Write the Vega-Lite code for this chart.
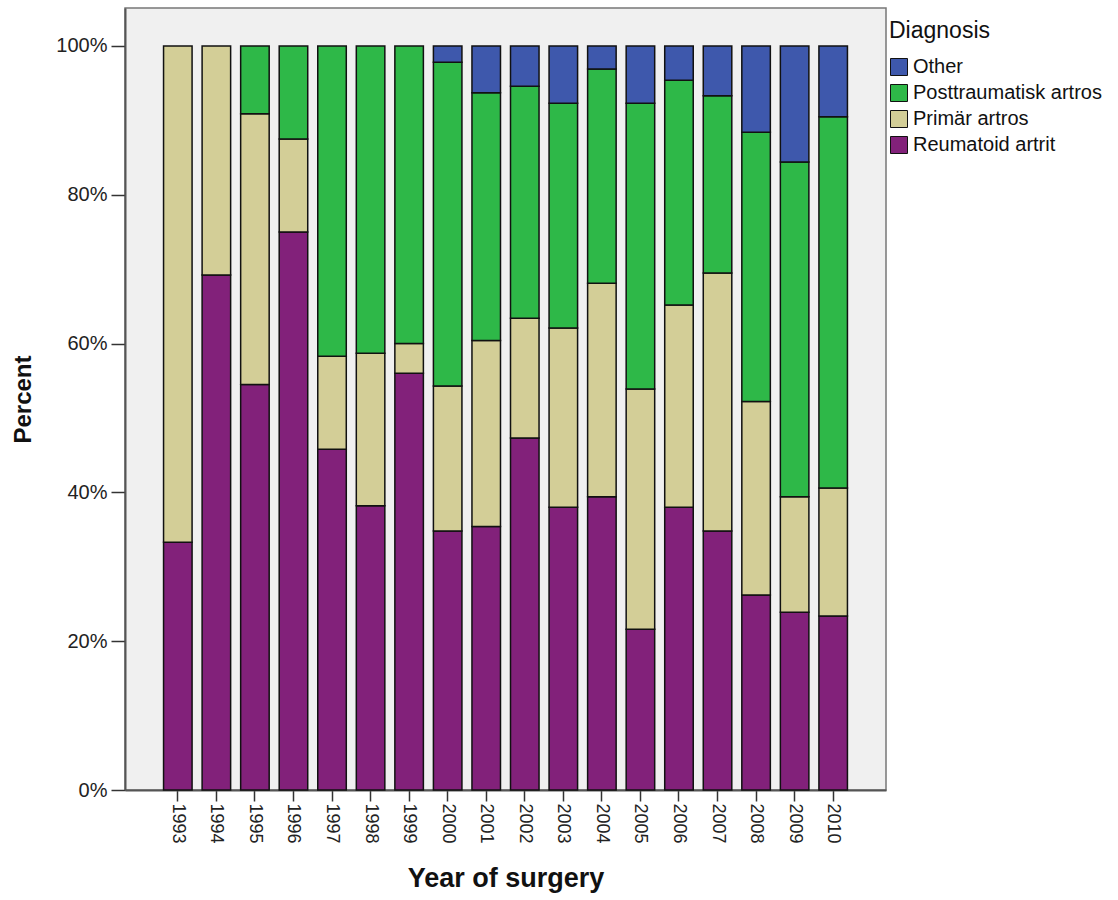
{
  "$schema": "https://vega.github.io/schema/vega-lite/v6.json",
  "autosize": "none",
  "width": 761,
  "height": 782,
  "padding": {"left": 125, "top": 8, "right": 232, "bottom": 110},
  "background": "white",
  "config": {
    "view": {"fill": "#f0f0f0", "stroke": "#777777", "strokeWidth": 1.5},
    "font": "Liberation Sans"
  },
  "data": {
    "values": [
      {"year": "1993", "diagnosis": "Reumatoid artrit", "percent": 33.3},
      {"year": "1993", "diagnosis": "Primär artros", "percent": 66.7},
      {"year": "1994", "diagnosis": "Reumatoid artrit", "percent": 69.2},
      {"year": "1994", "diagnosis": "Primär artros", "percent": 30.8},
      {"year": "1995", "diagnosis": "Reumatoid artrit", "percent": 54.5},
      {"year": "1995", "diagnosis": "Primär artros", "percent": 36.4},
      {"year": "1995", "diagnosis": "Posttraumatisk artros", "percent": 9.1},
      {"year": "1996", "diagnosis": "Reumatoid artrit", "percent": 75.0},
      {"year": "1996", "diagnosis": "Primär artros", "percent": 12.5},
      {"year": "1996", "diagnosis": "Posttraumatisk artros", "percent": 12.5},
      {"year": "1997", "diagnosis": "Reumatoid artrit", "percent": 45.8},
      {"year": "1997", "diagnosis": "Primär artros", "percent": 12.5},
      {"year": "1997", "diagnosis": "Posttraumatisk artros", "percent": 41.7},
      {"year": "1998", "diagnosis": "Reumatoid artrit", "percent": 38.2},
      {"year": "1998", "diagnosis": "Primär artros", "percent": 20.5},
      {"year": "1998", "diagnosis": "Posttraumatisk artros", "percent": 41.3},
      {"year": "1999", "diagnosis": "Reumatoid artrit", "percent": 56.0},
      {"year": "1999", "diagnosis": "Primär artros", "percent": 4.0},
      {"year": "1999", "diagnosis": "Posttraumatisk artros", "percent": 40.0},
      {"year": "2000", "diagnosis": "Reumatoid artrit", "percent": 34.8},
      {"year": "2000", "diagnosis": "Primär artros", "percent": 19.5},
      {"year": "2000", "diagnosis": "Posttraumatisk artros", "percent": 43.5},
      {"year": "2000", "diagnosis": "Other", "percent": 2.2},
      {"year": "2001", "diagnosis": "Reumatoid artrit", "percent": 35.4},
      {"year": "2001", "diagnosis": "Primär artros", "percent": 25.0},
      {"year": "2001", "diagnosis": "Posttraumatisk artros", "percent": 33.3},
      {"year": "2001", "diagnosis": "Other", "percent": 6.3},
      {"year": "2002", "diagnosis": "Reumatoid artrit", "percent": 47.3},
      {"year": "2002", "diagnosis": "Primär artros", "percent": 16.1},
      {"year": "2002", "diagnosis": "Posttraumatisk artros", "percent": 31.2},
      {"year": "2002", "diagnosis": "Other", "percent": 5.4},
      {"year": "2003", "diagnosis": "Reumatoid artrit", "percent": 38.0},
      {"year": "2003", "diagnosis": "Primär artros", "percent": 24.1},
      {"year": "2003", "diagnosis": "Posttraumatisk artros", "percent": 30.2},
      {"year": "2003", "diagnosis": "Other", "percent": 7.7},
      {"year": "2004", "diagnosis": "Reumatoid artrit", "percent": 39.4},
      {"year": "2004", "diagnosis": "Primär artros", "percent": 28.7},
      {"year": "2004", "diagnosis": "Posttraumatisk artros", "percent": 28.8},
      {"year": "2004", "diagnosis": "Other", "percent": 3.1},
      {"year": "2005", "diagnosis": "Reumatoid artrit", "percent": 21.6},
      {"year": "2005", "diagnosis": "Primär artros", "percent": 32.3},
      {"year": "2005", "diagnosis": "Posttraumatisk artros", "percent": 38.4},
      {"year": "2005", "diagnosis": "Other", "percent": 7.7},
      {"year": "2006", "diagnosis": "Reumatoid artrit", "percent": 38.0},
      {"year": "2006", "diagnosis": "Primär artros", "percent": 27.2},
      {"year": "2006", "diagnosis": "Posttraumatisk artros", "percent": 30.2},
      {"year": "2006", "diagnosis": "Other", "percent": 4.6},
      {"year": "2007", "diagnosis": "Reumatoid artrit", "percent": 34.8},
      {"year": "2007", "diagnosis": "Primär artros", "percent": 34.7},
      {"year": "2007", "diagnosis": "Posttraumatisk artros", "percent": 23.8},
      {"year": "2007", "diagnosis": "Other", "percent": 6.7},
      {"year": "2008", "diagnosis": "Reumatoid artrit", "percent": 26.2},
      {"year": "2008", "diagnosis": "Primär artros", "percent": 26.0},
      {"year": "2008", "diagnosis": "Posttraumatisk artros", "percent": 36.2},
      {"year": "2008", "diagnosis": "Other", "percent": 11.6},
      {"year": "2009", "diagnosis": "Reumatoid artrit", "percent": 23.9},
      {"year": "2009", "diagnosis": "Primär artros", "percent": 15.5},
      {"year": "2009", "diagnosis": "Posttraumatisk artros", "percent": 45.0},
      {"year": "2009", "diagnosis": "Other", "percent": 15.6},
      {"year": "2010", "diagnosis": "Reumatoid artrit", "percent": 23.4},
      {"year": "2010", "diagnosis": "Primär artros", "percent": 17.2},
      {"year": "2010", "diagnosis": "Posttraumatisk artros", "percent": 49.9},
      {"year": "2010", "diagnosis": "Other", "percent": 9.5}
    ]
  },
  "mark": {"type": "bar", "stroke": "#111111", "strokeWidth": 1.5},
  "encoding": {
    "x": {
      "field": "year",
      "type": "ordinal",
      "scale": {"paddingInner": 0.26, "paddingOuter": 1.1},
      "axis": {
        "title": "Year of surgery",
        "titleFontSize": 27,
        "titleFontWeight": "bold",
        "titleColor": "#111111",
        "titlePadding": 22,
        "labelAngle": 90,
        "labelAlign": "left",
        "labelBaseline": "middle",
        "labelFontSize": 18,
        "labelColor": "#222222",
        "labelPadding": 2,
        "tickSize": 11,
        "tickColor": "#333333",
        "tickWidth": 1.5,
        "domainColor": "#555555",
        "domainWidth": 2
      }
    },
    "y": {
      "field": "percent",
      "type": "quantitative",
      "stack": "zero",
      "scale": {"domain": [0, 105.1], "nice": false},
      "axis": {
        "title": "Percent",
        "titleFontSize": 24,
        "titleFontWeight": "bold",
        "titleColor": "#111111",
        "titlePadding": 20,
        "values": [0, 20, 40, 60, 80, 100],
        "labelExpr": "datum.value + '%'",
        "labelFontSize": 20,
        "labelColor": "#222222",
        "labelPadding": 4,
        "tickSize": 14,
        "tickColor": "#333333",
        "tickWidth": 1.5,
        "grid": false,
        "domainColor": "#555555",
        "domainWidth": 2
      }
    },
    "color": {
      "field": "diagnosis",
      "type": "nominal",
      "scale": {
        "domain": ["Other", "Posttraumatisk artros", "Primär artros", "Reumatoid artrit"],
        "range": ["#3E58AC", "#2EB848", "#D3CE97", "#82217A"]
      },
      "legend": {
        "title": "Diagnosis",
        "orient": "none",
        "legendX": 764,
        "legendY": 12,
        "titleFontSize": 23,
        "titleFontWeight": "normal",
        "titleColor": "#111111",
        "titlePadding": 14,
        "labelFontSize": 20,
        "labelLimit": 400,
        "labelColor": "#111111",
        "labelOffset": 4,
        "symbolType": "square",
        "symbolSize": 289,
        "symbolStrokeColor": "#111111",
        "symbolStrokeWidth": 1,
        "symbolOpacity": 1,
        "rowPadding": 4
      }
    },
    "order": {"field": "diagnosis", "sort": "descending"}
  }
}
